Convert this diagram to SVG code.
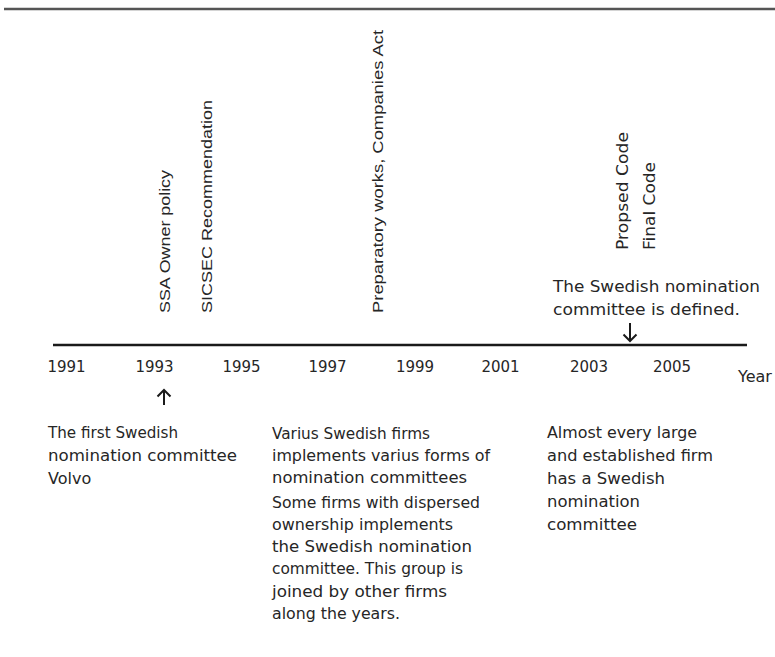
<svg xmlns="http://www.w3.org/2000/svg" width="775" height="657" viewBox="0 0 775 657">
<style>
.body{font-family:"DejaVu Sans","Liberation Sans",sans-serif;font-size:16px;fill:#262626}
.yr{font-family:"DejaVu Sans","Liberation Sans",sans-serif;font-size:15px;fill:#262626;text-anchor:middle}
.ev{font-family:"Liberation Sans",Arial,sans-serif;font-size:15px;fill:#262626}
.evg{font-family:"DejaVu Sans","Liberation Sans",sans-serif;font-size:15px;fill:#262626}
.ln{stroke:#1a1a1a;fill:none}
</style>
<rect width="775" height="657" fill="#ffffff"/>
<line x1="4" y1="9" x2="775" y2="9" stroke="#555" stroke-width="2.5"/>

<g id="axis">
<line class="ln" x1="53" y1="345" x2="747" y2="345" stroke-width="2.5"/>
<text class="yr" x="66.5" y="372">1991</text>
<text class="yr" x="154.5" y="372">1993</text>
<text class="yr" x="241.5" y="372">1995</text>
<text class="yr" x="327.5" y="372">1997</text>
<text class="yr" x="415" y="372">1999</text>
<text class="yr" x="500.5" y="372">2001</text>
<text class="yr" x="589" y="372">2003</text>
<text class="yr" x="672" y="372">2005</text>
<text class="body" x="738" y="382">Year</text>
</g>

<g id="ev-ssa"><text class="ev" x="170" y="313" transform="rotate(-90 170 313)" textLength="143" lengthAdjust="spacingAndGlyphs">SSA Owner policy</text></g>
<g id="ev-sicsec"><text class="ev" x="212" y="313" transform="rotate(-90 212 313)" textLength="213" lengthAdjust="spacingAndGlyphs">SICSEC Recommendation</text></g>
<g id="ev-prep"><text class="ev" x="383" y="313" transform="rotate(-90 383 313)" textLength="283" lengthAdjust="spacingAndGlyphs">Preparatory works, Companies Act</text></g>
<g id="ev-proposed"><text class="evg" x="628" y="250" transform="rotate(-90 628 250)" textLength="118" lengthAdjust="spacingAndGlyphs">Propsed Code</text></g>
<g id="ev-final"><text class="evg" x="655" y="250" transform="rotate(-90 655 250)" textLength="88" lengthAdjust="spacingAndGlyphs">Final Code</text></g>

<g id="defined">
<text class="body" x="553" y="292" textLength="207" lengthAdjust="spacingAndGlyphs">The Swedish nomination</text>
<text class="body" x="553" y="315" textLength="187" lengthAdjust="spacingAndGlyphs">committee is defined.</text>
</g>

<g id="first">
<text class="body" x="48" y="438" textLength="130" lengthAdjust="spacingAndGlyphs">The first Swedish</text>
<text class="body" x="48" y="461" textLength="189" lengthAdjust="spacingAndGlyphs">nomination committee</text>
<text class="body" x="48" y="484">Volvo</text>
</g>

<g id="various">
<text class="body" x="272" y="439" textLength="158" lengthAdjust="spacingAndGlyphs">Varius Swedish firms</text>
<text class="body" x="272" y="461" textLength="218" lengthAdjust="spacingAndGlyphs">implements varius forms of</text>
<text class="body" x="272" y="483" textLength="195" lengthAdjust="spacingAndGlyphs">nomination committees</text>
<text class="body" x="272" y="508" textLength="208" lengthAdjust="spacingAndGlyphs">Some firms with dispersed</text>
<text class="body" x="272" y="530" textLength="181" lengthAdjust="spacingAndGlyphs">ownership implements</text>
<text class="body" x="272" y="552" textLength="200" lengthAdjust="spacingAndGlyphs">the Swedish nomination</text>
<text class="body" x="272" y="574" textLength="191" lengthAdjust="spacingAndGlyphs">committee. This group is</text>
<text class="body" x="272" y="597" textLength="175" lengthAdjust="spacingAndGlyphs">joined by other firms</text>
<text class="body" x="272" y="619" textLength="128" lengthAdjust="spacingAndGlyphs">along the years.</text>
</g>

<g id="almost">
<text class="body" x="547" y="438" textLength="150" lengthAdjust="spacingAndGlyphs">Almost every large</text>
<text class="body" x="547" y="461" textLength="166" lengthAdjust="spacingAndGlyphs">and established firm</text>
<text class="body" x="547" y="484" textLength="118" lengthAdjust="spacingAndGlyphs">has a Swedish</text>
<text class="body" x="547" y="507" textLength="93" lengthAdjust="spacingAndGlyphs">nomination</text>
<text class="body" x="547" y="530" textLength="90" lengthAdjust="spacingAndGlyphs">committee</text>
</g>

<g id="connectors" class="ln" stroke-width="2">
<path d="M164 405 V390 M157.5 396.5 L164 390 L170.5 396.5"/>
<path d="M630 323 V341 M623.5 334.5 L630 341 L636.5 334.5"/>
</g>
</svg>
